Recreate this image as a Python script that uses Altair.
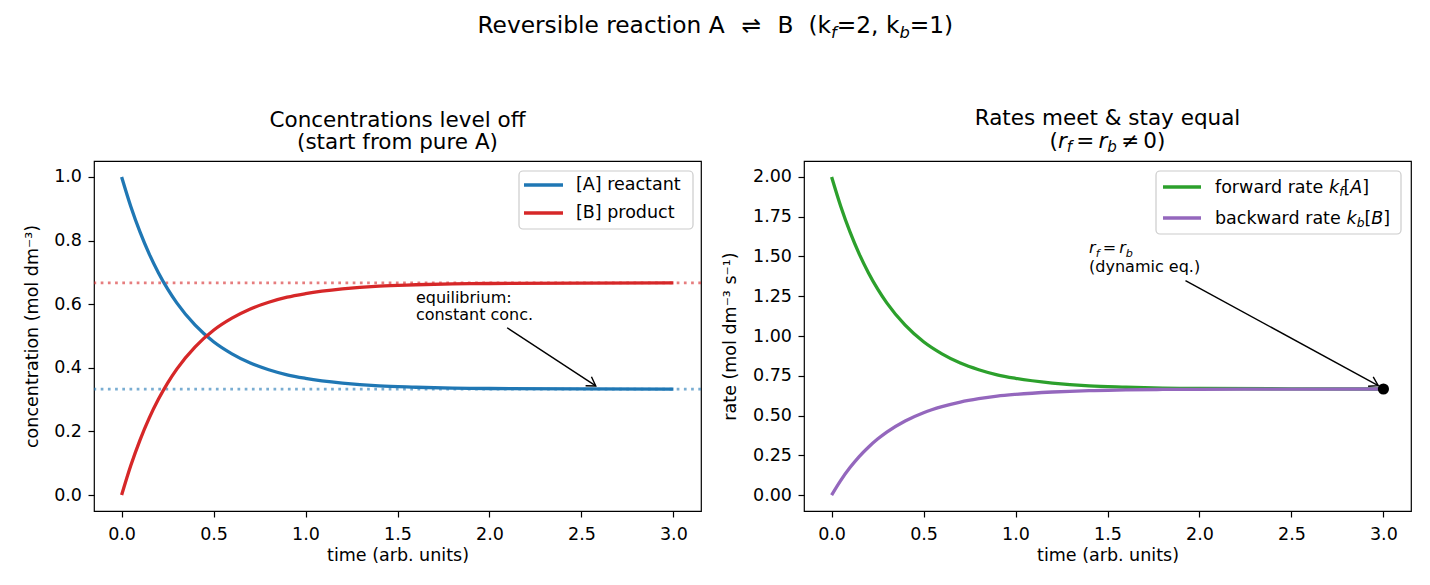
import altair as alt
import pandas as pd

FONT = "DejaVu Sans"
BLUE, RED, GREEN, PURPLE = "#1f77b4", "#d62728", "#2ca02c", "#9467bd"
NB = "\u00a0"
TH = "\u2009"

# ---- values ----
time = [0.0, 0.05, 0.1, 0.15, 0.2, 0.25, 0.3, 0.4, 0.5, 0.6, 0.7, 0.8, 0.9,
        1.0, 1.2, 1.4, 1.6, 1.8, 2.0, 2.5, 3.0]
conc_A = [1.000, 0.907, 0.827, 0.758, 0.699, 0.648, 0.604, 0.534, 0.482, 0.444,
          0.415, 0.394, 0.378, 0.367, 0.352, 0.343, 0.339, 0.336, 0.335, 0.334, 0.333]
conc_B = [0.000, 0.093, 0.173, 0.242, 0.301, 0.352, 0.396, 0.466, 0.518, 0.556,
          0.585, 0.606, 0.622, 0.633, 0.648, 0.657, 0.661, 0.664, 0.665, 0.666, 0.667]
rate_fwd = [2.000, 1.814, 1.654, 1.516, 1.398, 1.296, 1.208, 1.068, 0.964, 0.888,
            0.830, 0.788, 0.756, 0.734, 0.704, 0.686, 0.678, 0.672, 0.670, 0.668, 0.667]
rate_bwd = [0.000, 0.093, 0.173, 0.242, 0.301, 0.352, 0.396, 0.466, 0.518, 0.556,
            0.585, 0.606, 0.622, 0.633, 0.648, 0.657, 0.661, 0.664, 0.665, 0.666, 0.667]
eq_A, eq_B = 0.333, 0.667           # dotted equilibrium lines
eq_point = (3.0, 0.667)             # black dot, right panel
x_ticks = [0.0, 0.5, 1.0, 1.5, 2.0, 2.5, 3.0]
conc_ticks = [0.0, 0.2, 0.4, 0.6, 0.8, 1.0]
rate_ticks = [0.0, 0.25, 0.5, 0.75, 1.0, 1.25, 1.5, 1.75, 2.0]
# annotation arrows (start -> end, data units)
arrow_left = (2.096, 0.526, 2.578, 0.343)
arrow_right = (1.924, 1.348, 2.972, 0.688)

# ---- text helpers (DejaVu Sans advance widths, units/2048) ----
ADV = {' ': 651, NB: 651, '(': 799, ')': 799, ',': 651, '.': 651, ':': 690,
       '=': 1716, '[': 799, ']': 799, 'A': 1401, 'B': 1405, 'R': 1423, 'a': 1255,
       'b': 1300, 'c': 1126, 'd': 1300, 'e': 1260, 'f': 721, 'g': 1300, 'h': 1298,
       'i': 569, 'k': 1186, 'l': 569, 'm': 1995, 'n': 1298, 'o': 1253, 'p': 1300,
       'q': 1300, 'r': 842, 's': 1067, 't': 803, 'u': 1298, 'v': 1212, 'w': 1675,
       'y': 1212, '⇌': 1716, '≠': 1716}


def adv(s, size):
    return sum(ADV.get(c, 1303 if c.isdigit() else 1200) for c in s) * size / 2048


def enc(v):
    return alt.value(v) if isinstance(v, (int, float)) else v


def label(text, x, y, size, italic=False, dx=0, dy=0, align="left",
          baseline="alphabetic", color="black"):
    return alt.Chart(alt.Data(values=[{}])).mark_text(
        text=text.replace(" ", NB), font=FONT, fontSize=size, color=color,
        fontStyle="italic" if italic else "normal", align=align,
        baseline=baseline, dx=dx, dy=dy,
    ).encode(x=enc(x), y=enc(y))


def rich(pieces, x, y, size, anchor="left", dx=0, dy=0):
    items, cur = [], 0.0
    for text, kind in pieces:
        if kind == "gap":
            cur += 0.195 * size
            continue
        fs = size * 0.7 if kind == "sub" else size
        items.append((cur, text, kind, fs))
        cur += adv(text, fs)
    start = -cur / 2 if anchor == "center" else 0
    out = []
    for off, text, kind, fs in items:
        out.append(label(text, x, y, fs, italic=kind in ("i", "sub"),
                         dx=dx + start + off,
                         dy=dy + (0.2 * size if kind == "sub" else 0)))
    return out


# ---- scales / axes ----
W, H = 607, 350
xscale = alt.Scale(domain=[-0.15, 3.15], nice=False, zero=False)
xaxis = alt.Axis(values=x_ticks, format=".1f", title="time (arb. units)",
                 labelFlush=False)


def X(f):
    return alt.X(f, type="quantitative", scale=xscale, axis=xaxis)


def Yc(f):
    return alt.Y(f, type="quantitative",
                 scale=alt.Scale(domain=[-0.05, 1.05], nice=False, zero=False),
                 axis=alt.Axis(values=conc_ticks, format=".1f", labelFlush=False,
                               title="concentration (mol dm⁻³)", titlePadding=12))


def Yr(f):
    return alt.Y(f, type="quantitative",
                 scale=alt.Scale(domain=[-0.1, 2.1], nice=False, zero=False),
                 axis=alt.Axis(values=rate_ticks, format=".2f", labelFlush=False,
                               title="rate (mol dm⁻³ s⁻¹)", titlePadding=13))


def series(t, v, Yf, color):
    d = pd.DataFrame({"t": t, "v": v})
    return alt.Chart(d).mark_line(strokeWidth=3.3, interpolate="monotone",
                                  color=color).encode(x=X("t"), y=Yf("v"))


def hline(level, Yf, color):
    return alt.Chart(pd.DataFrame({"v": [level]})).mark_rule(
        strokeDash=[2.7, 4.5], strokeWidth=2.6, opacity=0.6, color=color
    ).encode(y=Yf("v"))


def arrow(seg, Yf, angle):
    x0, y0, x1, y1 = seg
    d = pd.DataFrame({"t": [x0], "v": [y0], "t2": [x1], "v2": [y1]})
    shaft = alt.Chart(d).mark_rule(color="black", strokeWidth=1.4).encode(
        x=X("t"), y=Yf("v"), x2="t2", y2="v2")
    head = alt.Chart(pd.DataFrame({"t": [x1], "v": [y1]})).mark_point(
        shape="M -1 -0.62 L 0 0 L -1 0.62", angle=angle, size=300, filled=False,
        color="black", strokeWidth=1.4, opacity=1).encode(x=X("t"), y=Yf("v"))
    return [shaft, head]


def legend_box(x0, x1, y0, y1):
    return alt.Chart(alt.Data(values=[{}])).mark_rect(
        fill="white", fillOpacity=0.8, stroke="#cccccc", strokeWidth=1.2,
        cornerRadius=4).encode(x=alt.value(x0), x2=alt.value(x1),
                               y=alt.value(y0), y2=alt.value(y1))


def legend_line(x0, x1, y, color):
    return alt.Chart(alt.Data(values=[{}])).mark_rule(
        color=color, strokeWidth=3.3).encode(x=alt.value(x0), x2=alt.value(x1),
                                             y=alt.value(y))


# ---- figure title: main part right-aligned at the first subscript ----
TS = 23.3
s1 = 737.0   # x of the "f" subscript, relative to the left panel
sub_f_w = adv("f", TS * 0.7)
mid = "=2, k"
mid_w = adv(mid, TS)
suptitle = [
    label("Reversible reaction A" + NB + TH + TH + "⇌" + TH + TH + NB + "B" + NB + NB + "(k",
          s1, -128, TS, align="right"),
    label("f", s1, -128, TS * 0.7, italic=True, dy=0.2 * TS),
    label(mid, s1 + sub_f_w, -128, TS),
    label("b", s1 + sub_f_w + mid_w, -128, TS * 0.7, italic=True, dy=0.2 * TS),
    label("=1)", s1 + sub_f_w + mid_w + adv("b", TS * 0.7), -128, TS),
]

# ---- left panel ----
left_layers = [hline(eq_B, Yc, RED), hline(eq_A, Yc, BLUE),
               series(time, conc_A, Yc, BLUE), series(time, conc_B, Yc, RED),
               legend_box(425, 599, 10, 68),
               legend_line(430, 469, 24, BLUE), legend_line(430, 469, 52, RED),
               label("[A] reactant", 482, 24, 17.5, baseline="middle"),
               label("[B] product", 482, 52, 17.5, baseline="middle")]
left_layers += arrow(arrow_left, Yc, 33)
left_layers += [label("equilibrium:", alt.datum(1.6), alt.datum(0.55), 16, dy=-17.5),
                label("constant conc.", alt.datum(1.6), alt.datum(0.55), 16)]
left_layers += [label("Concentrations level off", W / 2, -34, 21.5, align="center"),
                label("(start from pure A)", W / 2, -12.5, 21.5, align="center")]
left_layers += suptitle

left = alt.layer(*left_layers).properties(width=W, height=H)

# ---- right panel ----
dot = alt.Chart(pd.DataFrame({"t": [eq_point[0]], "v": [eq_point[1]]})).mark_circle(
    size=125, color="black", opacity=1).encode(x=X("t"), y=Yr("v"))

right_layers = [series(time, rate_fwd, Yr, GREEN), series(time, rate_bwd, Yr, PURPLE),
                legend_box(352, 597, 10, 73),
                legend_line(359, 397, 26, GREEN), legend_line(359, 397, 57, PURPLE)]
right_layers += rich([("forward rate ", "n"), ("k", "i"), ("f", "sub"), ("[", "n"),
                      ("A", "i"), ("]", "n")], 411, 31.5, 17.5)
right_layers += rich([("backward rate ", "n"), ("k", "i"), ("b", "sub"), ("[", "n"),
                      ("B", "i"), ("]", "n")], 411, 62.5, 17.5)
right_layers += arrow(arrow_right, Yr, 28.5)
right_layers += [dot]
right_layers += rich([("r", "i"), ("f", "sub"), ("", "gap"), ("=", "n"), ("", "gap"),
                      ("r", "i"), ("b", "sub")], alt.datum(1.4), alt.datum(1.4), 16,
                     dy=-19)
right_layers += [label("(dynamic eq.)", alt.datum(1.4), alt.datum(1.4), 16)]
right_layers += [label("Rates meet & stay equal", W / 2, -36, 21.5, align="center")]
right_layers += rich([("(", "n"), ("r", "i"), ("f", "sub"), ("", "gap"), ("=", "n"),
                      ("", "gap"), ("r", "i"), ("b", "sub"), ("", "gap"), ("≠", "n"),
                      ("", "gap"), ("0)", "n")], W / 2, -13, 21.5, anchor="center")

right = alt.layer(*right_layers).properties(width=W, height=H)

chart = alt.hconcat(left, right, spacing=103, bounds="flush").properties(
    padding={"left": 23, "top": 13, "right": 5, "bottom": 5},
    background="white",
).configure_view(
    stroke="black", strokeWidth=1.2
).configure_axis(
    labelFont=FONT, titleFont=FONT, labelFontSize=17.5, titleFontSize=17.5,
    titleFontWeight="normal", labelColor="black", titleColor="black",
    tickColor="black", tickSize=6, tickWidth=1.2, domain=False, grid=False,
).configure_axisX(labelPadding=8, titlePadding=4
).configure_axisY(labelPadding=6.5)

chart.save("out.html", embed_options={"renderer": "svg", "actions": False})
